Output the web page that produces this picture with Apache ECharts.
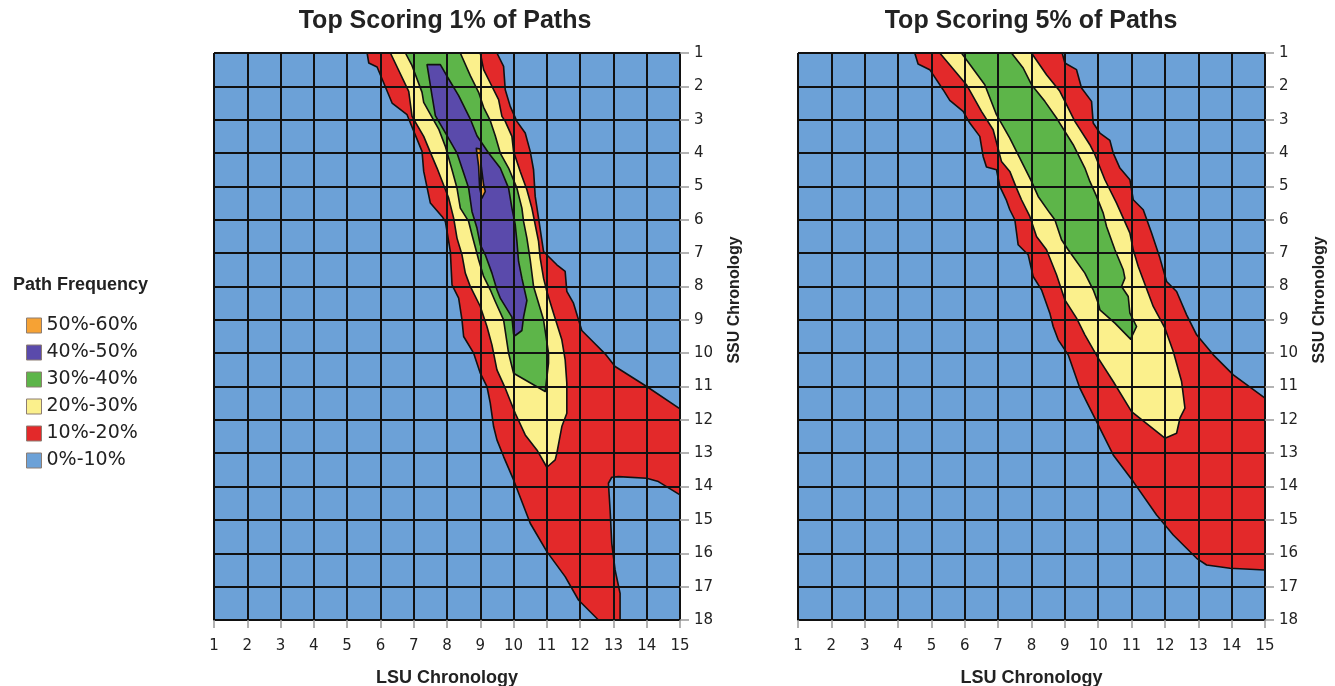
<!DOCTYPE html>
<html><head><meta charset="utf-8">
<script src="https://cdn.jsdelivr.net/npm/echarts@6/dist/echarts.min.js"></script>
<style>html,body{margin:0;padding:0;background:#fff}#c{width:1335px;height:686px}</style>
</head><body><div id="c"></div>
<script>
// ---- tick labels ----
const lsuTicks = [1,2,3,4,5,6,7,8,9,10,11,12,13,14,15];
const ssuTicks = [1,2,3,4,5,6,7,8,9,10,11,12,13,14,15,16,17,18];
const panelTitles = ['Top Scoring 1% of Paths', 'Top Scoring 5% of Paths'];
const levelNames = ['50%-60%','40%-50%','30%-40%','20%-30%','10%-20%','0%-10%'];
const levelColors = ['#f6a234','#5a4aab','#5db549','#fbf08c','#e3292a','#6ca1d7'];

// ---- contour boundaries, [LSU, SSU] ----
const bgArea = [[1,1],[15,1],[15,18],[1,18]];

const top1_10 = [[5.6,1.0],[5.65,1.3],[5.9,1.42],[6.35,2.5],[6.8,2.85],[6.9,3.1],[7.25,3.95],[7.3,4.55],[7.5,5.5],[7.85,5.9],[7.95,6.05],[8.1,6.95],[8.15,7.95],[8.35,8.35],[8.45,9.0],[8.5,9.5],[8.8,10.0],[9.0,10.6],[9.2,11.0],[9.3,11.5],[9.4,12.2],[9.5,12.6],[9.7,13.1],[10.0,13.8],[10.5,15.1],[11.0,15.95],[11.55,16.7],[11.95,17.4],[12.55,18.0],
 [13.2,18.0],[13.2,17.2],[13.05,16.5],[12.95,15.7],[12.9,14.7],[12.85,13.9],[12.95,13.72],[13.15,13.7],[14.0,13.75],[14.35,13.85],[15.0,14.25],
 [15.0,11.67],[14.0,11.0],[13.05,10.4],[12.75,10.02],[12.35,9.62],[12.05,9.32],[11.8,8.5],[11.6,8.15],[11.55,7.55],[11.3,7.35],[11.05,7.1],[10.9,6.95],[10.75,5.95],[10.65,5.3],[10.6,4.5],[10.5,3.95],[10.35,3.4],[10.1,3.05],[9.9,2.6],[9.75,2.1],[9.7,1.4],[9.5,1.0]];
const top1_20 = [[6.3,1.0],[6.85,2.15],[6.95,2.9],[7.3,3.5],[7.55,4.1],[7.7,4.45],[8.05,5.35],[8.2,5.95],[8.3,6.55],[8.45,7.05],[8.55,7.6],[8.7,8.0],[9.0,8.6],[9.2,9.2],[9.35,9.75],[9.5,10.5],[9.75,11.05],[10.05,11.8],[10.35,12.45],[10.7,12.9],[11.0,13.42],
 [11.25,13.2],[11.3,13.0],[11.45,12.2],[11.6,11.8],[11.6,10.9],[11.55,10.2],[11.45,9.6],[11.2,8.8],[11.0,8.15],[10.9,7.75],[10.8,7.15],[10.75,6.65],[10.65,6.15],[10.55,5.65],[10.4,5.1],[10.2,4.55],[10.0,3.95],[9.95,3.5],[9.75,3.05],[9.65,2.9],[9.55,2.4],[9.3,1.9],[9.1,1.5],[9.0,1.0]];
const top1_30 = [[6.75,1.0],[6.95,1.38],[7.25,2.18],[7.3,2.48],[7.75,3.28],[7.95,3.8],[8.15,4.5],[8.3,5.05],[8.4,5.65],[8.65,6.05],[8.75,6.45],[8.95,7.2],[9.1,7.7],[9.3,8.1],[9.45,8.45],[9.7,9.0],[9.85,10.0],[10.0,10.6],[10.95,11.15],
 [11.05,10.3],[11.05,10.0],[10.9,9.0],[10.6,8.0],[10.5,7.2],[10.4,6.55],[10.3,6.05],[10.25,5.65],[10.1,5.05],[9.85,4.45],[9.6,4.0],[9.45,3.48],[9.3,3.03],[9.1,2.63],[8.95,2.18],[8.7,1.68],[8.4,1.0]];
const top1_40 = [[7.4,1.35],[7.8,1.35],[8.05,1.78],[8.35,2.28],[8.7,2.98],[8.9,3.48],[9.25,4.0],[9.6,4.45],[9.85,5.05],[9.95,5.65],[10.05,6.15],[10.1,6.65],[10.15,7.25],[10.25,7.75],[10.4,8.42],[10.3,8.92],[10.25,9.32],[10.05,9.47],
 [10.0,9.42],[9.95,8.92],[9.6,8.35],[9.5,8.1],[9.35,7.6],[9.15,7.05],[9.0,6.75],[8.9,6.25],[8.75,5.75],[8.65,5.05],[8.45,4.45],[8.3,4.0],[8.0,3.48],[7.65,2.88],[7.55,2.28]];
const top1_50 = [[8.88,3.86],[9.0,3.88],[9.03,4.4],[9.1,4.95],[9.15,5.15],[9.05,5.35],[8.98,5.05],[8.95,4.4]];

const top5_10 = [[4.5,1.0],[4.6,1.33],[4.95,1.5],[5.35,2.1],[5.55,2.42],[5.95,2.75],[6.15,3.1],[6.45,3.5],[6.55,4.1],[6.65,4.42],[6.95,4.5],[7.05,5.0],[7.25,5.42],[7.35,5.7],[7.5,6.0],[7.6,6.75],[7.9,7.05],[8.05,7.7],[8.3,8.1],[8.55,8.8],[8.65,9.2],[8.8,9.6],[9.1,10.05],[9.45,11.05],[9.65,11.45],[9.85,11.85],[10.45,13.05],[11.05,13.85],[11.75,14.85],[12.25,15.45],[12.95,16.15],[13.25,16.35],[13.95,16.45],[15.0,16.5],
 [15.0,11.35],[14.05,10.65],[13.45,10.05],[12.95,9.45],[12.65,8.85],[12.35,8.15],[12.05,7.85],[11.85,7.15],[11.75,6.85],[11.6,6.4],[11.35,5.7],[11.05,5.4],[10.95,4.8],[10.65,4.45],[10.45,4.0],[10.35,3.62],[10.05,3.4],[9.85,3.1],[9.8,2.45],[9.5,2.05],[9.35,1.5],[9.0,1.3],[8.92,1.0]];
const top5_20 = [[5.25,1.0],[6.05,1.95],[6.5,2.75],[6.85,3.3],[7.1,4.25],[7.35,4.55],[7.55,5.05],[7.7,5.4],[7.95,5.9],[8.15,6.5],[8.45,6.9],[8.75,7.65],[8.9,8.1],[9.0,8.4],[9.35,8.95],[9.6,9.45],[10.0,10.15],[10.45,10.85],[11.0,11.75],[12.0,12.55],
 [12.35,12.4],[12.45,11.95],[12.6,11.65],[12.5,10.85],[12.25,9.95],[12.0,9.25],[11.65,8.6],[11.2,7.4],[11.05,6.9],[10.95,6.4],[10.55,5.5],[10.2,4.8],[9.9,4.05],[9.75,3.75],[9.3,3.05],[9.05,2.55],[8.85,2.15],[8.45,1.65],[8.0,1.0]];
const top5_30 = [[5.9,1.0],[6.6,1.95],[6.95,2.85],[7.35,3.55],[7.65,4.15],[8.0,4.85],[8.2,5.3],[8.55,5.8],[8.7,6.0],[8.9,6.6],[9.1,6.9],[9.6,7.6],[9.85,8.1],[10.0,8.5],[10.05,8.7],[10.5,9.1],[10.97,9.58],
 [11.15,9.2],[10.95,8.8],[10.9,8.3],[10.7,8.0],[10.8,7.75],[10.75,7.5],[10.5,6.9],[10.25,6.2],[10.15,5.8],[9.95,5.3],[9.75,4.85],[9.6,4.45],[9.25,3.75],[9.0,3.35],[8.75,2.95],[8.4,2.45],[8.0,1.95],[7.75,1.45],[7.4,1.0]];

const panels = [
  [top1_50, top1_40, top1_30, top1_20, top1_10, bgArea],
  [null, null, top5_30, top5_20, top5_10, bgArea]
];

const FONT = 'DejaVu Sans';
const BOLD = '"Liberation Sans", Arial, sans-serif';

function polySeries(level, pts, gi) {
  const color = levelColors[level];
  const isBg = level === levelColors.length - 1;
  return {
    type: 'custom', name: levelNames[level], coordinateSystem: 'cartesian2d',
    xAxisIndex: gi, yAxisIndex: gi, z: 2 + (levelColors.length - level),
    silent: true, animation: false,
    itemStyle: {color: color},
    data: [pts[0]],
    renderItem: function (params, api) {
      return {
        type: 'polygon',
        shape: {points: pts.map(function (p) { return api.coord(p); })},
        style: {fill: color, stroke: isBg ? null : '#111', lineWidth: 1.6, lineJoin: 'round'}
      };
    }
  };
}

const series = [];
panels.forEach(function (levels, gi) {
  for (let lv = levels.length - 1; lv >= 0; lv--) {
    if (levels[lv]) series.push(polySeries(lv, levels[lv], gi));
  }
});

const grids = [
  {left: 214, top: 53, width: 466, height: 567, containLabel: false, outerBoundsMode: 'none'},
  {left: 798, top: 53, width: 467, height: 567, containLabel: false, outerBoundsMode: 'none'}
];

function xAxisFor(gi) {
  return {
    type: 'value', gridIndex: gi, min: lsuTicks[0], max: lsuTicks[lsuTicks.length - 1], interval: 1, z: 20,
    name: 'LSU Chronology', nameLocation: 'middle', nameGap: 49,
    nameTextStyle: {fontSize: 18, fontWeight: 'bold', fontFamily: BOLD, color: '#222'},
    axisLine: {show: true, onZero: false, lineStyle: {color: '#111', width: 2}},
    axisTick: {show: true, length: 8, lineStyle: {color: '#9a9a9a', width: 1.5}},
    axisLabel: {margin: 19, fontSize: 15, fontFamily: FONT, color: '#222',
      formatter: function (v) { return lsuTicks.indexOf(v) >= 0 ? String(v) : ''; }},
    splitLine: {show: true, lineStyle: {color: '#111', width: 2}}
  };
}
function yAxisFor(gi) {
  return {
    type: 'value', gridIndex: gi, min: ssuTicks[0], max: ssuTicks[ssuTicks.length - 1], interval: 1, z: 20,
    inverse: true, position: 'right',
    axisLine: {show: true, onZero: false, lineStyle: {color: '#111', width: 2}},
    axisTick: {show: true, length: 9, lineStyle: {color: '#9a9a9a', width: 1.5}},
    axisLabel: {margin: 14, fontSize: 15, fontFamily: FONT, color: '#222',
      formatter: function (v) { return ssuTicks.indexOf(v) >= 0 ? String(v) : ''; }},
    splitLine: {show: true, lineStyle: {color: '#111', width: 2}}
  };
}

const chart = echarts.init(document.getElementById('c'), null, {renderer: 'canvas'});
chart.setOption({
  animation: false,
  backgroundColor: '#ffffff',
  grid: grids,
  xAxis: [xAxisFor(0), xAxisFor(1)],
  yAxis: [yAxisFor(0), yAxisFor(1)],
  legend: {
    orient: 'vertical', left: 26, top: 316, padding: 0, itemWidth: 15, itemHeight: 15, itemGap: 8,
    icon: 'rect', data: levelNames, selectedMode: false,
    textStyle: {fontSize: 19, fontFamily: FONT, color: '#222'},
    itemStyle: {borderColor: '#8c7d72', borderWidth: 1}
  },
  graphic: [
    {type: 'text', x: 445, y: 21, style: {text: panelTitles[0], fontSize: 25, fontWeight: 'bold', fontFamily: BOLD, fill: '#222', align: 'center', verticalAlign: 'middle'}},
    {type: 'text', x: 1031, y: 21, style: {text: panelTitles[1], fontSize: 25, fontWeight: 'bold', fontFamily: BOLD, fill: '#222', align: 'center', verticalAlign: 'middle'}},
    {type: 'text', x: 13, y: 285, style: {text: 'Path Frequency', fontSize: 18, fontWeight: 'bold', fontFamily: BOLD, fill: '#222', align: 'left', verticalAlign: 'middle'}},
    {type: 'text', x: 735, y: 300, rotation: Math.PI / 2, style: {text: 'SSU Chronology', fontSize: 16, fontWeight: 'bold', fontFamily: BOLD, fill: '#222', align: 'center', verticalAlign: 'middle'}},
    {type: 'text', x: 1320, y: 300, rotation: Math.PI / 2, style: {text: 'SSU Chronology', fontSize: 16, fontWeight: 'bold', fontFamily: BOLD, fill: '#222', align: 'center', verticalAlign: 'middle'}}
  ],
  series: series
});
</script></body></html>
